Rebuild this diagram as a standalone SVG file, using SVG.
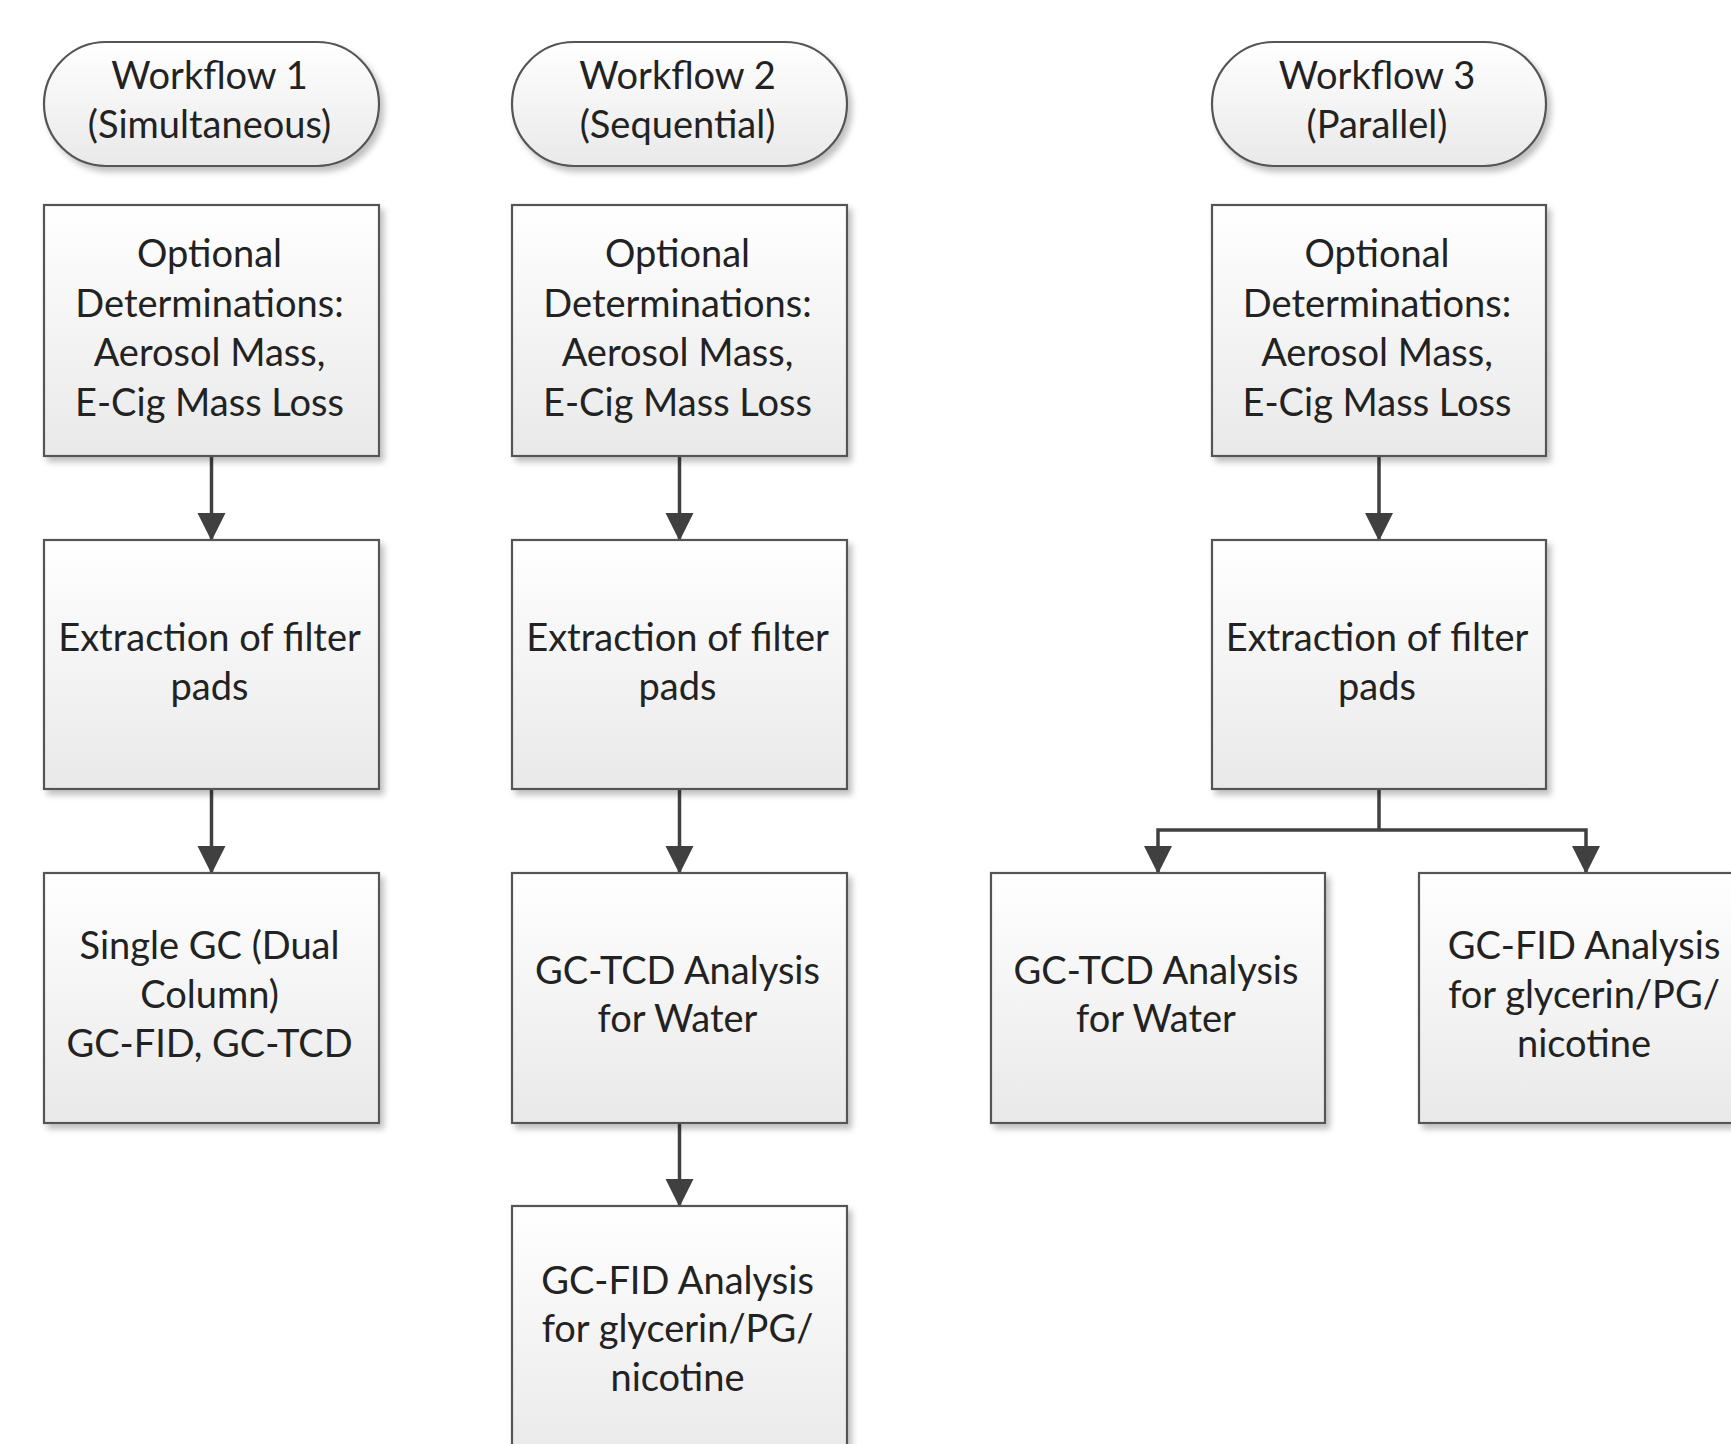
<svg xmlns="http://www.w3.org/2000/svg" width="1731" height="1444" viewBox="0 0 1731 1444">
<defs>
<linearGradient id="g" x1="0" y1="0" x2="0" y2="1">
<stop offset="0" stop-color="#ffffff"/>
<stop offset="1" stop-color="#e9e9e9"/>
</linearGradient>
<filter id="sh" x="-10%" y="-10%" width="125%" height="125%">
<feGaussianBlur in="SourceAlpha" stdDeviation="3"/>
<feOffset dx="4" dy="5" result="b"/>
<feComponentTransfer><feFuncA type="linear" slope="0.25"/></feComponentTransfer>
<feMerge><feMergeNode/><feMergeNode in="SourceGraphic"/></feMerge>
</filter>
<marker id="ah" markerUnits="userSpaceOnUse" markerWidth="28" markerHeight="30" refX="27" refY="14" orient="auto">
<path d="M0,0 L28,14 L0,28 Z" fill="#404040"/>
</marker>
<style>
.n{fill:url(#g);stroke:#555555;stroke-width:2.2;filter:url(#sh)}
.t{font-family:Lato,"Open Sans","Liberation Sans",sans-serif;font-size:38px;fill:#222222;text-anchor:middle}
.c{fill:none;stroke:#404040;stroke-width:3.5;marker-end:url(#ah)}
.cl{fill:none;stroke:#404040;stroke-width:3.5}
</style>
</defs>
<rect width="1731" height="1444" fill="#ffffff"/>

<g id="connectors">
<path class="c" d="M211.5,457 L211.5,540"/>
<path class="c" d="M211.5,790 L211.5,873"/>
<path class="c" d="M679.5,457 L679.5,540"/>
<path class="c" d="M679.5,790 L679.5,873"/>
<path class="c" d="M679.5,1124 L679.5,1206"/>
<path class="c" d="M1379,457 L1379,540"/>
<path class="cl" d="M1379,790 L1379,830"/>
<path class="c" d="M1379,830 L1158,830 L1158,873"/>
<path class="c" d="M1379,830 L1586,830 L1586,873"/>
</g>

<g id="wf1">
<rect class="n" x="44" y="42" width="335" height="124" rx="62" ry="62"/>
<text class="t" x="209.5" y="89">Workflow 1</text>
<text class="t" x="209.5" y="138">(Simultaneous)</text>
</g>
<g id="wf2">
<rect class="n" x="512" y="42" width="335" height="124" rx="62" ry="62"/>
<text class="t" x="677.5" y="89">Workflow 2</text>
<text class="t" x="677.5" y="138">(Sequential)</text>
</g>
<g id="wf3">
<rect class="n" x="1212" y="42" width="334" height="124" rx="62" ry="62"/>
<text class="t" x="1377" y="89">Workflow 3</text>
<text class="t" x="1377" y="138">(Parallel)</text>
</g>

<g id="opt1">
<rect class="n" x="44" y="205" width="335" height="251"/>
<text class="t" x="209.5" y="267">Optional</text>
<text class="t" x="209.5" y="317">Determinations:</text>
<text class="t" x="209.5" y="366">Aerosol Mass,</text>
<text class="t" x="209.5" y="416">E-Cig Mass Loss</text>
</g>
<g id="opt2">
<rect class="n" x="512" y="205" width="335" height="251"/>
<text class="t" x="677.5" y="267">Optional</text>
<text class="t" x="677.5" y="317">Determinations:</text>
<text class="t" x="677.5" y="366">Aerosol Mass,</text>
<text class="t" x="677.5" y="416">E-Cig Mass Loss</text>
</g>
<g id="opt3">
<rect class="n" x="1212" y="205" width="334" height="251"/>
<text class="t" x="1377" y="267">Optional</text>
<text class="t" x="1377" y="317">Determinations:</text>
<text class="t" x="1377" y="366">Aerosol Mass,</text>
<text class="t" x="1377" y="416">E-Cig Mass Loss</text>
</g>

<g id="ext1">
<rect class="n" x="44" y="540" width="335" height="249"/>
<text class="t" x="209.5" y="651">Extraction of filter</text>
<text class="t" x="209.5" y="700">pads</text>
</g>
<g id="ext2">
<rect class="n" x="512" y="540" width="335" height="249"/>
<text class="t" x="677.5" y="651">Extraction of filter</text>
<text class="t" x="677.5" y="700">pads</text>
</g>
<g id="ext3">
<rect class="n" x="1212" y="540" width="334" height="249"/>
<text class="t" x="1377" y="651">Extraction of filter</text>
<text class="t" x="1377" y="700">pads</text>
</g>

<g id="single-gc">
<rect class="n" x="44" y="873" width="335" height="250"/>
<text class="t" x="209.5" y="959">Single GC (Dual</text>
<text class="t" x="209.5" y="1008">Column)</text>
<text class="t" x="209.5" y="1057">GC-FID, GC-TCD</text>
</g>
<g id="tcd2">
<rect class="n" x="512" y="873" width="335" height="250"/>
<text class="t" x="677.5" y="984">GC-TCD Analysis</text>
<text class="t" x="677.5" y="1032">for Water</text>
</g>
<g id="fid2">
<rect class="n" x="512" y="1206" width="335" height="260"/>
<text class="t" x="677.5" y="1294">GC-FID Analysis</text>
<text class="t" x="677.5" y="1342">for glycerin/PG/</text>
<text class="t" x="677.5" y="1391">nicotine</text>
</g>
<g id="tcd3">
<rect class="n" x="991" y="873" width="334" height="250"/>
<text class="t" x="1156" y="984">GC-TCD Analysis</text>
<text class="t" x="1156" y="1032">for Water</text>
</g>
<g id="fid3">
<rect class="n" x="1419" y="873" width="335" height="250"/>
<text class="t" x="1584" y="959">GC-FID Analysis</text>
<text class="t" x="1584" y="1008">for glycerin/PG/</text>
<text class="t" x="1584" y="1057">nicotine</text>
</g>
</svg>
